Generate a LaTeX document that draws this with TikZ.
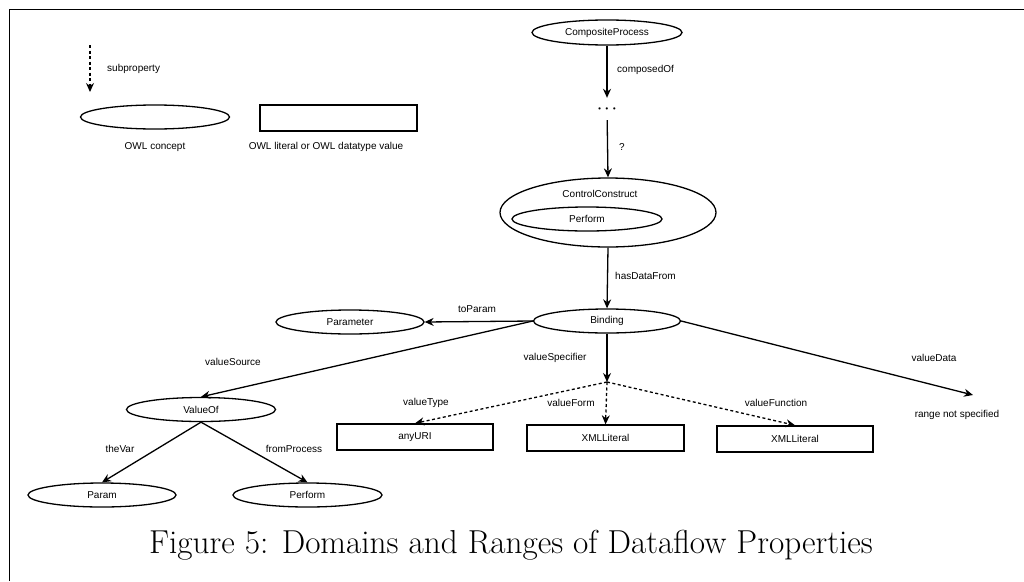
\documentclass[tikz,border=0pt]{standalone}
\usepackage{fontspec}
\newfontfamily\diagfont{Liberation Sans}
\usetikzlibrary{shapes.geometric,arrows.meta}

\begin{document}
\begin{tikzpicture}[x=1pt,y=-1pt,
  every node/.style={font=\diagfont\fontsize{10}{12}\selectfont, inner sep=0pt},
  concept/.style={ellipse, draw, line width=1.3pt, minimum width=149pt, minimum height=24pt},
  literal/.style={rectangle, draw, line width=1.4pt, minimum width=156pt, minimum height=26pt},
  rel/.style={line width=1.3pt, -{Stealth[length=9pt,width=8pt]}},
  subrel/.style={rel, dash pattern=on 3pt off 2.5pt},
  lbl/.style={anchor=center}
]
\useasboundingbox (0,0) rectangle (1024,581);

% page frame
\draw[line width=1pt] (9,581) -- (9,9) -- (1024,9);

% legend
\coordinate (legtop) at (90,45);
\coordinate (legbot) at (90,92);
\draw[subrel] (legtop) -- (legbot);
\node[anchor=west] (legsub) at (107,69) {subproperty};
\node[concept] (legconcept) at (155,117) {};
\node (legconceptlbl) at (155,147) {OWL concept};
\node[literal, minimum width=157pt] (legliteral) at (338.5,118) {};
\node (legliterallbl) at (326,147) {OWL literal or OWL datatype value};

% upper chain
\node[concept, minimum width=150pt, minimum height=25pt] (comp) at (607,32.5) {CompositeProcess};
\node[minimum height=22pt, font=\fontsize{15}{15}\selectfont\boldmath] (dots) at (607,109) {$\cdots$};
\node[ellipse, draw, line width=1.3pt, minimum width=216pt, minimum height=69pt] (cc) at (608,212.5) {};
\node (cclbl) at (600,194) {ControlConstruct};
\node[concept, minimum width=150pt] (perf) at (587,219) {Perform};
\node[concept, minimum width=147pt] (binding) at (607,321) {Binding};
\node[concept, minimum width=148pt] (parameter) at (350,322) {Parameter};

\draw[rel] (comp) -- (dots);
\draw[rel] (dots) -- (cc.north);
\draw[rel] (cc.south) -- (binding.north);
\draw[rel] (binding.west) -- (parameter.east);

\node[anchor=west] (lcomposed) at (617,70) {composedOf};
\node[anchor=west] (lq) at (619,147) {?};
\node[anchor=west] (lhas) at (615,276) {hasDataFrom};
\node (ltoparam) at (477,309) {toParam};

% value source branch
\node[concept] (valueof) at (201,409.5) {ValueOf};
\node[concept, minimum width=148pt] (param) at (102,495) {Param};
\node[concept] (perform) at (307.5,495) {Perform};
\draw[rel] (binding.west) -- (valueof.north);
\draw[rel] (valueof.south) -- (param.north);
\draw[rel] (valueof.south) -- (perform.north);
\node (lsource) at (233,362) {valueSource};
\node (lthevar) at (120,449) {theVar};
\node (lfromproc) at (294,449) {fromProcess};

% value specifier branch
\coordinate (spec) at (607,382);
\node[literal] (anyuri) at (415,437) {anyURI};
\node[literal, minimum width=157pt] (xmlform) at (605.5,438) {XMLLiteral};
\node[literal] (xmlfunc) at (795,439) {XMLLiteral};
\draw[rel] (binding.south) -- (spec);
\draw[subrel] (spec) -- (anyuri.north);
\draw[subrel] (spec) -- (xmlform.north);
\draw[subrel] (spec) -- (xmlfunc.north);
\node (lspec) at (555,358) {valueSpecifier};
\node (ltype) at (426,403) {valueType};
\node (lform) at (571,403) {valueForm};
\node (lfunc) at (776,403) {valueFunction};

% value data
\coordinate (dataend) at (973,395);
\draw[rel] (binding.east) -- (dataend);
\node (ldata) at (934,358) {valueData};
\node (lrange) at (957,415) {range not specified};

% caption
\node[anchor=base, font=\fontsize{33.2}{38}\selectfont] (caption) at (511,553)
  {Figure 5: Domains and Ranges of Dataflow Properties};
\end{tikzpicture}
\end{document}
